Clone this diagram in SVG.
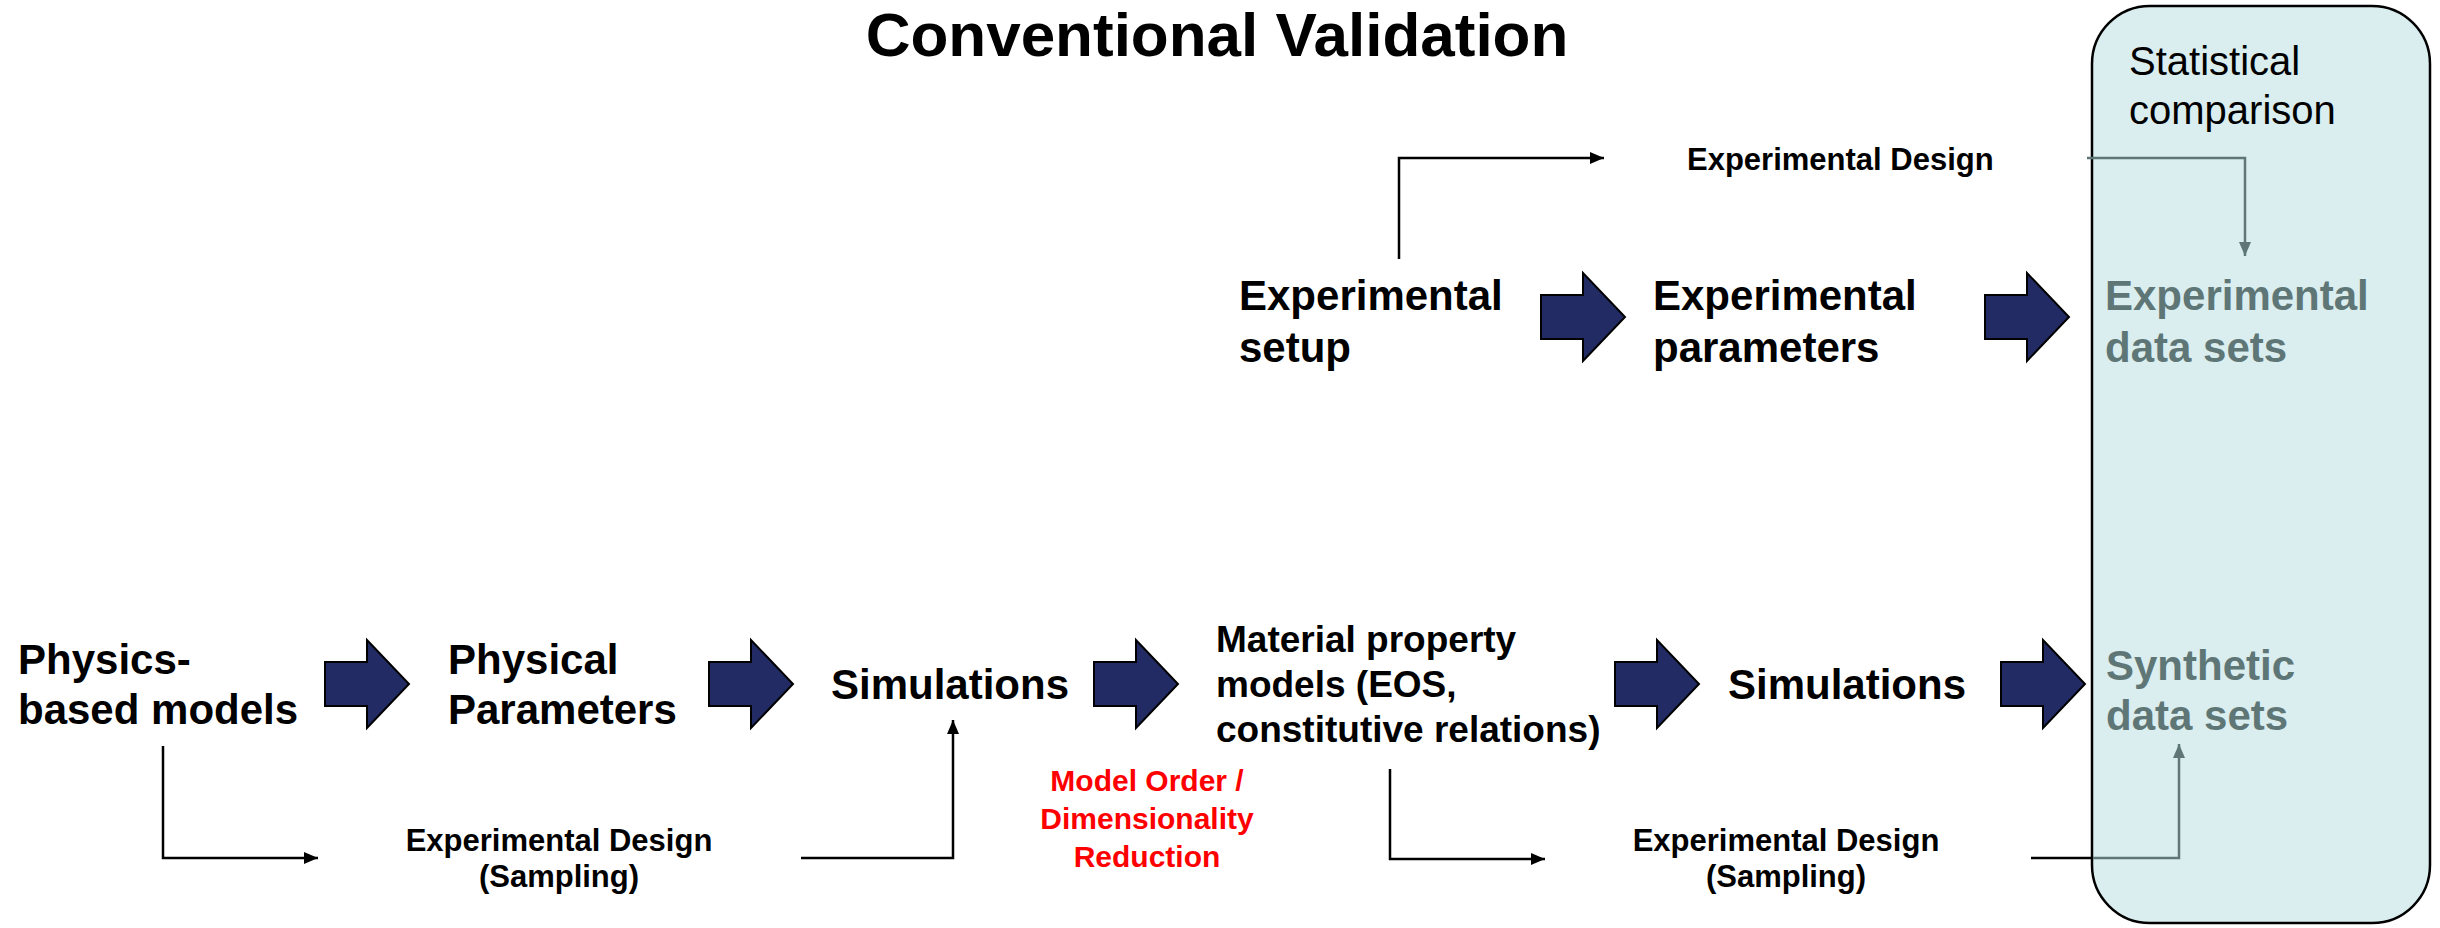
<svg xmlns="http://www.w3.org/2000/svg" xmlns:xlink="http://www.w3.org/1999/xlink" width="2440" height="928" viewBox="0 0 2440 928">
<style>
text { font-family: "Liberation Sans", Arial, sans-serif; }
.title { font-size: 62px; font-weight: bold; fill: #000; }
.big { font-size: 42px; font-weight: bold; fill: #000; }
.mid { font-size: 37px; font-weight: bold; fill: #000; }
.small { font-size: 31px; font-weight: bold; fill: #000; }
.red { font-size: 30px; font-weight: bold; fill: #FF0000; }
.grey { fill: #5F7676; }
.stat { font-size: 40px; fill: #000; }
.conn { fill: none; stroke: #000; stroke-width: 2.5; }
.gconn { fill: none; stroke: #5F7676; stroke-width: 2.5; }
.blk { fill: #222B64; stroke: #000; stroke-width: 2; }
</style>
<defs>
<path id="bigArrow" d="M0 -22 H42 V-44 L84 0 L42 44 V22 H0 Z"/>
<marker id="ah" viewBox="0 0 14 12" refX="14" refY="6" markerWidth="14" markerHeight="12" orient="auto" markerUnits="userSpaceOnUse">
<path d="M0 0 L14 6 L0 12 Z" fill="#000"/>
</marker>
<marker id="ahg" viewBox="0 0 14 12" refX="14" refY="6" markerWidth="14" markerHeight="12" orient="auto" markerUnits="userSpaceOnUse">
<path d="M0 0 L14 6 L0 12 Z" fill="#5F7676"/>
</marker>
</defs>
<rect width="2440" height="928" fill="#FFFFFF"/>

<g id="statBox">
<rect x="2092" y="6" width="338" height="917" rx="58" ry="58" fill="#DAEDEF" stroke="#000" stroke-width="2.5"/>
<text class="stat" x="2129" y="75">Statistical</text>
<text class="stat" x="2129" y="124">comparison</text>
</g>

<g id="title">
<text class="title" x="1217" y="56" text-anchor="middle">Conventional Validation</text>
</g>

<g id="connectors">
<path class="conn" d="M1399 259 V158 H1604" marker-end="url(#ah)"/>
<path class="gconn" d="M2087 158 H2245 V256" marker-end="url(#ahg)"/>
<path class="conn" d="M163 746 V858 H318" marker-end="url(#ah)"/>
<path class="conn" d="M801 858 H953 V720" marker-end="url(#ah)"/>
<path class="conn" d="M1390 769 V859 H1545" marker-end="url(#ah)"/>
<path class="conn" d="M2031 858 H2093"/>
<path class="gconn" d="M2093 858 H2179 V744" marker-end="url(#ahg)"/>
<use xlink:href="#bigArrow" href="#bigArrow" class="blk" x="1541" y="317"/>
<use xlink:href="#bigArrow" href="#bigArrow" class="blk" x="1985" y="317"/>
<use xlink:href="#bigArrow" href="#bigArrow" class="blk" x="325" y="684"/>
<use xlink:href="#bigArrow" href="#bigArrow" class="blk" x="709" y="684"/>
<use xlink:href="#bigArrow" href="#bigArrow" class="blk" x="1094" y="684"/>
<use xlink:href="#bigArrow" href="#bigArrow" class="blk" x="1615" y="684"/>
<use xlink:href="#bigArrow" href="#bigArrow" class="blk" x="2001" y="684"/>
</g>

<g id="expSetup">
<text class="big" x="1239" y="310">Experimental</text>
<text class="big" x="1239" y="362">setup</text>
</g>
<g id="expDesignTop">
<text class="small" x="1687" y="170">Experimental Design</text>
</g>
<g id="expParams">
<text class="big" x="1653" y="310">Experimental</text>
<text class="big" x="1653" y="362">parameters</text>
</g>
<g id="expData">
<text class="big grey" x="2105" y="310">Experimental</text>
<text class="big grey" x="2105" y="362">data sets</text>
</g>

<g id="physicsModels">
<text class="big" x="18" y="674">Physics-</text>
<text class="big" x="18" y="724">based models</text>
</g>
<g id="physParams">
<text class="big" x="448" y="674">Physical</text>
<text class="big" x="448" y="724">Parameters</text>
</g>
<g id="sim1">
<text class="big" x="831" y="699">Simulations</text>
</g>
<g id="material">
<text class="mid" x="1216" y="652">Material property</text>
<text class="mid" x="1216" y="697">models (EOS,</text>
<text class="mid" x="1216" y="742">constitutive relations)</text>
</g>
<g id="sim2">
<text class="big" x="1728" y="699">Simulations</text>
</g>
<g id="synthData">
<text class="big grey" x="2106" y="680">Synthetic</text>
<text class="big grey" x="2106" y="730">data sets</text>
</g>
<g id="expDesign1">
<text class="small" x="559" y="851" text-anchor="middle">Experimental Design</text>
<text class="small" x="559" y="887" text-anchor="middle">(Sampling)</text>
</g>
<g id="mor">
<text class="red" x="1147" y="791" text-anchor="middle">Model Order /</text>
<text class="red" x="1147" y="829" text-anchor="middle">Dimensionality</text>
<text class="red" x="1147" y="867" text-anchor="middle">Reduction</text>
</g>
<g id="expDesign2">
<text class="small" x="1786" y="851" text-anchor="middle">Experimental Design</text>
<text class="small" x="1786" y="887" text-anchor="middle">(Sampling)</text>
</g>
</svg>
